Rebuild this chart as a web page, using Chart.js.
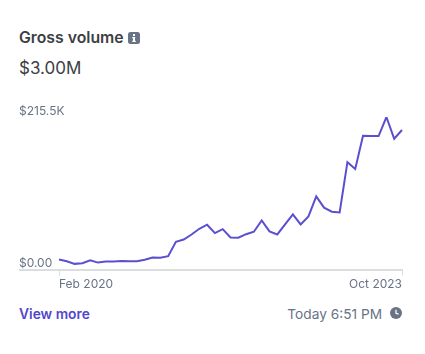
<!DOCTYPE html>
<html>
<head>
<meta charset="utf-8">
<script src="https://cdn.jsdelivr.net/npm/chart.js@4/dist/chart.umd.min.js"></script>
<style>
  html, body { margin: 0; background: #fff; font-family: Inter, sans-serif; }
  #card { position: relative; width: 425px; height: 354px; overflow: hidden; }
  #card div, #card svg, #chart-wrap { position: absolute; white-space: nowrap; }
  #title { left: 19px; top: 28px; font-size: 15.8px; line-height: 20px; font-weight: 600; color: #3c4043; }
  #total { left: 19px; top: 57px; font-size: 17px; line-height: 22px; color: #3c4043; }
  #more { left: 19px; top: 305px; font-size: 13.8px; line-height: 18px; font-weight: 600; color: #5246cc; }
  #updated { right: 43px; top: 305px; font-size: 13.7px; line-height: 18px; color: #697386; }
  #chart-wrap { left: 19px; top: 100px; width: 384px; height: 194px; }
</style>
</head>
<body>
<div id="card">
  <div id="title">Gross volume</div>
  <svg style="left:128px;top:32px" width="12" height="12" viewBox="0 0 12 12">
    <rect width="12" height="12" rx="2.5" fill="#697386"/>
    <rect x="5" y="2" width="2" height="2" fill="#fff"/>
    <rect x="4.2" y="5" width="3" height="1.2" fill="#fff"/>
    <rect x="5" y="5" width="2" height="4" fill="#fff"/>
    <rect x="4.2" y="8.8" width="3.6" height="1.2" fill="#fff"/>
  </svg>
  <div id="total">$3.00M</div>
  <div id="chart-wrap"><canvas id="volume-chart" width="384" height="194"></canvas></div>
  <div id="more">View more</div>
  <div id="updated">Today 6:51 PM</div>
  <svg style="left:390px;top:307px" width="12" height="12" viewBox="0 0 12 12">
    <circle cx="6" cy="6" r="6" fill="#697386"/>
    <path d="M6 2.8V6.3L8.6 7.2" stroke="#fff" stroke-width="1.3" fill="none"/>
  </svg>
</div>
<script>
const months = [
  "Feb 2020", "Mar 2020", "Apr 2020", "May 2020", "Jun 2020", "Jul 2020", "Aug 2020", "Sep 2020", "Oct 2020",
  "Nov 2020", "Dec 2020", "Jan 2021", "Feb 2021", "Mar 2021", "Apr 2021", "May 2021", "Jun 2021", "Jul 2021",
  "Aug 2021", "Sep 2021", "Oct 2021", "Nov 2021", "Dec 2021", "Jan 2022", "Feb 2022", "Mar 2022", "Apr 2022",
  "May 2022", "Jun 2022", "Jul 2022", "Aug 2022", "Sep 2022", "Oct 2022", "Nov 2022", "Dec 2022", "Jan 2023",
  "Feb 2023", "Mar 2023", "Apr 2023", "May 2023", "Jun 2023", "Jul 2023", "Aug 2023", "Sep 2023", "Oct 2023",
];
const grossVolume = [
  14200, 11800, 8100, 8900, 13200, 9900, 11300, 11300, 12300,
  11800, 11800, 13800, 17000, 16600, 18900, 39300, 42500, 49600,
  57700, 63400, 51500, 57100, 45400, 45000, 50000, 53500, 69500,
  53900, 49600, 63800, 78000, 63800, 75200, 103500, 87500, 81800,
  80800, 151700, 142200, 189000, 188600, 188600, 215500, 184800, 197100,
];
const yTicks = [0, 215500];
const yTickLabels = ["$0.00", "$215.5K"];

const axisColor = "#dcdde1";
const tickFont = { family: "Inter", size: 12 };

document.addEventListener("DOMContentLoaded", () => {
  const ctx = document.getElementById("volume-chart").getContext("2d");

  new Chart(ctx, {
    type: "line",
    data: {
      labels: months,
      datasets: [
        {
          data: grossVolume,
          borderColor: "#5a4fcf",
          borderWidth: 2,
          pointRadius: 0,
          tension: 0,
        },
      ],
    },
    options: {
      responsive: false,
      animation: false,
      layout: { padding: { top: 17, right: 1, bottom: 0, left: 0 } },
      plugins: { legend: { display: false }, tooltip: { enabled: false } },
      scales: {
        x: {
          offset: false,
          border: { color: axisColor, width: 2 },
          grid: { drawOnChartArea: false, color: axisColor, tickLength: 6 },
          // only the first and last month get a tick
          afterBuildTicks: (axis) => {
            axis.ticks = [axis.ticks[0], axis.ticks[axis.ticks.length - 1]];
          },
          // keep the last point flush with the right end of the axis
          afterFit: (axis) => {
            axis.paddingRight = 0;
          },
          ticks: {
            autoSkip: false,
            maxRotation: 0,
            align: "inner",
            padding: 2,
            color: "#697386",
            font: tickFont,
            callback(value) {
              return months[value];
            },
          },
        },
        y: {
          min: yTicks[0],
          max: yTicks[1],
          afterFit: (axis) => {
            axis.width = 40;
          },
          afterBuildTicks: (axis) => {
            axis.ticks = yTicks.map((value) => ({ value }));
          },
          border: { display: false },
          grid: {
            drawOnChartArea: false,
            tickLength: 40,
            lineWidth: 2,
            // baseline runs under the $0.00 label, top tick stays hidden
            color: (c) => (c.tick && c.tick.value === 0 ? axisColor : "transparent"),
          },
          ticks: {
            // mirrored so the wide top label is not clipped to the axis box
            mirror: true,
            padding: -40,
            labelOffset: -6,
            color: "#697386",
            font: tickFont,
            callback(value) {
              return yTickLabels[yTicks.indexOf(value)];
            },
          },
        },
      },
    },
  });
});
</script>
</body>
</html>
